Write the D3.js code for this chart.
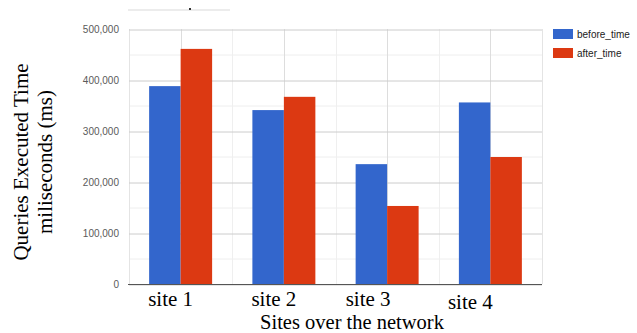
<!DOCTYPE html>
<html>
<head>
<meta charset="utf-8">
<script src="https://cdn.jsdelivr.net/npm/d3@7/dist/d3.min.js"></script>
<style>
  html, body { margin: 0; padding: 0; background: #fff; }
  svg { display: block; }
</style>
</head>
<body>
<svg id="chart" width="637" height="333"></svg>
<script>
// Query execution time per site, before and after the change (ms)
const sites = ["site 1", "site 2", "site 3", "site 4"];
const seriesNames = ["before_time", "after_time"];
const beforeTime = [388000, 341000, 235000, 356000];
const afterTime = [461000, 367000, 153000, 249000];
const yTicks = [0, 100000, 200000, 300000, 400000, 500000];
const colors = ["#3366cc", "#dc3912"];

const svg = d3.select("#chart");
const plot = { left: 129, right: 542, top: 29, bottom: 284 };

const x = d3.scaleBand()
  .domain(sites)
  .range([plot.left, plot.right])
  .paddingInner(0.39)
  .paddingOuter(0.195);

const xSeries = d3.scaleBand()
  .domain(seriesNames)
  .range([0, x.bandwidth()]);

const y = d3.scaleLinear()
  .domain([0, 500000])
  .range([plot.bottom, plot.top]);

// faint strip above the plot
svg.append("line")
  .attr("x1", 128).attr("x2", 230).attr("y1", 10).attr("y2", 10)
  .attr("stroke", "#ececec").attr("stroke-width", 2);
svg.append("rect").attr("x", 189).attr("y", 8).attr("width", 2).attr("height", 2).attr("fill", "#333");

// horizontal gridlines: minor every 50k, major every 100k
const minorY = d3.range(50000, 500001, 100000);
svg.append("g").selectAll("line").data(minorY).join("line")
  .attr("x1", plot.left).attr("x2", plot.right)
  .attr("y1", d => y(d) + 0.5).attr("y2", d => y(d) + 0.5)
  .attr("stroke", "#eeeeee");

// vertical gridlines: band edges (light) and band centres (darker)
const step = x.step();
const edges = d3.range(0, sites.length + 1).map(i => plot.left + i * step);
svg.append("g").selectAll("line").data(edges).join("line")
  .attr("x1", d => Math.round(d) + 0.5).attr("x2", d => Math.round(d) + 0.5)
  .attr("y1", plot.top).attr("y2", plot.bottom)
  .attr("stroke", (d, i) => (i === 0 || i === sites.length) ? "#e4e4e4" : "#efefef");
svg.append("g").selectAll("line").data(sites).join("line")
  .attr("x1", d => Math.round(x(d) + x.bandwidth() / 2) + 0.5)
  .attr("x2", d => Math.round(x(d) + x.bandwidth() / 2) + 0.5)
  .attr("y1", plot.top).attr("y2", plot.bottom)
  .attr("stroke", "#dddddd");

// y axis ticks and major gridlines
const yAxis = d3.axisLeft(y)
  .tickValues(yTicks)
  .tickFormat(d3.format(","))
  .tickSize(-(plot.right - plot.left))
  .tickPadding(10);
const yg = svg.append("g")
  .attr("transform", `translate(${plot.left},0)`)
  .call(yAxis);
yg.select(".domain").remove();
yg.selectAll(".tick line").attr("stroke", "#cccccc").attr("transform", "translate(0,0.5)");
yg.selectAll(".tick text")
  .attr("fill", "#5a5a5a")
  .attr("font-family", "Arial, 'Liberation Sans', sans-serif")
  .attr("font-size", 10);

// bars
const rows = sites.map((s, i) => ({ site: s, values: [beforeTime[i], afterTime[i]] }));
const groups = svg.append("g").selectAll("g").data(rows).join("g")
  .attr("transform", d => `translate(${x(d.site)},0)`);
groups.selectAll("rect")
  .data(d => d.values.map((v, j) => ({ name: seriesNames[j], value: v, j })))
  .join("rect")
  .attr("x", d => xSeries(d.name))
  .attr("y", d => y(d.value))
  .attr("width", xSeries.bandwidth())
  .attr("height", d => y(0) - y(d.value))
  .attr("fill", d => colors[d.j]);

// baseline
svg.append("line")
  .attr("x1", plot.left - 1).attr("x2", plot.right)
  .attr("y1", y(0) + 0.5).attr("y2", y(0) + 0.5)
  .attr("stroke", "#555").attr("stroke-width", 1.2);

// category labels (hand-placed offsets from each band centre)
const labelShift = [[-10, 306], [-10, 306], [-19, 306], [-20, 309]];
svg.append("g").selectAll("text").data(sites).join("text")
  .attr("x", (d, i) => x(d) + x.bandwidth() / 2 + labelShift[i][0])
  .attr("y", (d, i) => labelShift[i][1])
  .attr("text-anchor", "middle")
  .attr("font-family", "'Liberation Serif', 'Times New Roman', serif")
  .attr("font-size", 21)
  .attr("fill", "#000")
  .text(d => d);

// axis titles
svg.append("text")
  .attr("x", 352).attr("y", 328.5)
  .attr("text-anchor", "middle")
  .attr("font-family", "'Liberation Serif', 'Times New Roman', serif")
  .attr("font-size", 20.5)
  .text("Sites over the network");

const yTitle = svg.append("text")
  .attr("transform", "translate(0,162) rotate(-90)")
  .attr("text-anchor", "middle")
  .attr("font-family", "'Liberation Serif', 'Times New Roman', serif")
  .attr("font-size", 21);
yTitle.append("tspan").attr("x", 0).attr("y", 28).text("Queries Executed Time");
yTitle.append("tspan").attr("x", 0).attr("y", 52).text("miliseconds (ms)");

// legend
const legend = svg.append("g").selectAll("g").data(seriesNames).join("g")
  .attr("transform", (d, i) => `translate(553,${29 + i * 19})`);
legend.append("rect")
  .attr("width", 20).attr("height", 10)
  .attr("fill", (d, i) => colors[i]);
legend.append("text")
  .attr("x", 24).attr("y", 9)
  .attr("font-family", "Arial, 'Liberation Sans', sans-serif")
  .attr("font-size", 10)
  .attr("fill", "#222")
  .text(d => d);
</script>
</body>
</html>
